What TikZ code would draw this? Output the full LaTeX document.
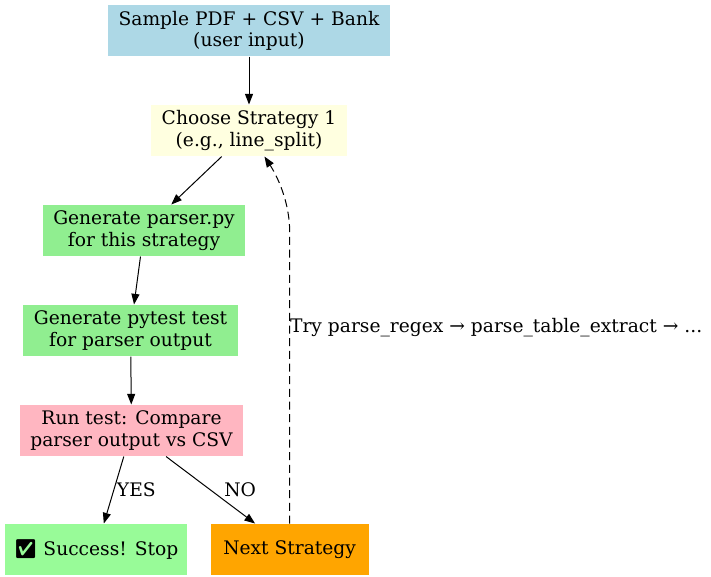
\documentclass[tikz,border=0pt]{standalone}
\usepackage{fontspec}
\setmainfont{DejaVu Serif}
\newfontfamily\emojifont{Noto Emoji}
\usetikzlibrary{arrows.meta,positioning}

\definecolor{lblue}{RGB}{173,216,230}
\definecolor{lyellow}{RGB}{255,255,224}
\definecolor{lgreen}{RGB}{144,238,144}
\definecolor{lpink}{RGB}{255,182,193}
\definecolor{pgreen}{RGB}{152,251,152}
\definecolor{gvorange}{RGB}{255,165,0}

\begin{document}
\begin{tikzpicture}[
        node distance=36pt and 17pt,
        font=\fontsize{14}{16}\selectfont,
        every path/.style={line width=0.75pt},
        box/.style={align=center, inner xsep=8pt, inner ysep=2pt, minimum height=38.25pt},
        edge/.style={-{Triangle[length=8pt,width=6pt]}},
        lbl/.style={inner sep=0pt}
    ]
    \useasboundingbox (0,0) rectangle (533.25pt,-432.75pt);

    % Nodes
    \node[box, fill=lblue] (sample) at (186.75pt,-22.9pt) {Sample PDF + CSV + Bank\\(user input)};
    \node[box, fill=lyellow, below=of sample] (choose) {Choose Strategy 1\\(e.g., line\_split)};
    \node[box, fill=lgreen, below=of choose, xshift=-78.75pt] (parser) {Generate parser.py\\for this strategy};
    \node[box, fill=lgreen, below=of parser, xshift=-10.1pt] (pytest) {Generate pytest test\\for parser output};
    \node[box, fill=lpink, below=of pytest, xshift=0.75pt] (run) {Run test: Compare\\parser output vs CSV};
    \node[box, fill=pgreen, below=50.25pt of run, xshift=-26.6pt, inner xsep=6.5pt] (success) {{\emojifont ✅} Success! Stop};
    \node[box, fill=gvorange, right=of success, minimum width=118.5pt] (next) {Next Strategy};

    % Edges
    \draw[edge] (sample) -- (choose);
    \draw[edge] (choose) -- (parser);
    \draw[edge] (parser) -- (pytest);
    \draw[edge] (pytest) -- (run);
    \draw[edge] (run) -- node[lbl, right, xshift=2pt] {YES} (success);
    \draw[edge] (run) -- node[lbl, right, xshift=10pt] {NO} (next);

    % retry loop
    \coordinate (bend) at (next.north |- parser.center);
    \draw[edge, dash pattern=on 6pt off 3.5pt] (next.north) -- node[lbl, right, pos=.67] {Try parse\_regex → parse\_table\_extract → ...} (bend)
        .. controls +(0,18.75pt) and +(11.25pt,-17.25pt) .. ([xshift=11.6pt]choose.south);
\end{tikzpicture}
\end{document}
